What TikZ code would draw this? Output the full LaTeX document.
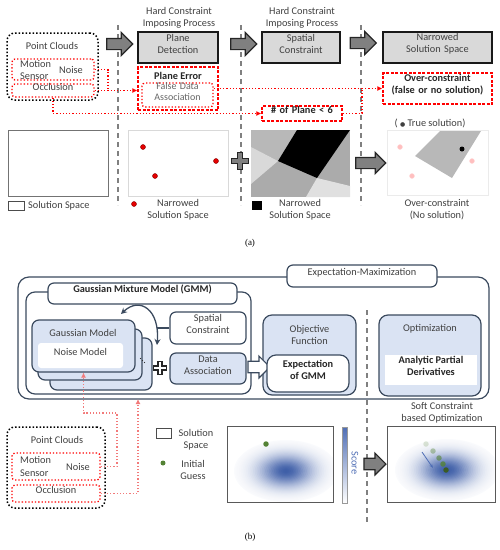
\documentclass[tikz,border=0pt]{standalone}
\usepackage{fontspec}
\setmainfont{Carlito}
\newfontfamily\capfont{Liberation Serif}
\newfontfamily\dejavu{DejaVu Sans}
\usetikzlibrary{shapes.arrows,arrows.meta,fit}
\definecolor{dk}{HTML}{404040}
\definecolor{bbord}{HTML}{3B4A5E}
\definecolor{lblue}{HTML}{DAE3F3}
\definecolor{rd}{HTML}{FF0000}
\definecolor{pk}{HTML}{F27A7A}
\definecolor{gcore}{RGB}{62,94,168}
\definecolor{scb}{HTML}{4F6EB5}
\definecolor{grn}{HTML}{548235}
\newcommand{\myplus}[5]{\draw[line width=1.2pt, draw=black!85, fill=#3, shift={(#1,#2)}] (-#4,-#5) -- (#4,-#5) -- (#4,-#4) -- (#5,-#4) -- (#5,#4) -- (#4,#4) -- (#4,#5) -- (-#4,#5) -- (-#4,#4) -- (-#5,#4) -- (-#5,-#4) -- (-#4,-#4) -- cycle;}
\newcommand{\gaussblob}[4]{%
  \foreach \i in {30,29,...,1}{%
    \pgfmathsetmacro{\pc}{100*exp(-3.6*(\i/30)^2)}%
    \fill[gcore!\pc!white] (#1,#2) ellipse ({#3*\i/30} and {#4*\i/30});
  }}
\tikzset{
  txt/.style={font=\fontsize{10.3}{12}\selectfont, text=dk, align=center, inner sep=0pt},
  txtb/.style={font=\fontsize{10.3}{12}\selectfont\bfseries, text=black!85, align=center, inner sep=0pt},
  graybox/.style={draw=black!90, line width=1.1pt, fill=black!15, inner sep=0pt},
  rdash/.style={draw=rd, dash pattern=on 3pt off 1.5pt, line width=1.3pt, inner sep=0pt},
  rdot/.style={draw=rd, dotted, line width=1.3pt, rounded corners=3pt, inner sep=0pt},
  kdot/.style={draw=black, dotted, line width=1.5pt, rounded corners=8pt, inner sep=0pt},
  vdash/.style={draw=black!50, line width=1.2pt, dash pattern=on 5pt off 4pt},
  blk/.style={draw=bbord, line width=1.2pt, rounded corners=7pt, inner sep=0pt},
  barrow/.style={single arrow, draw=black!85, fill=black!50, line width=1.2pt, single arrow head extend=6pt, inner sep=5pt, minimum height=26pt, minimum width=22pt},
  rline/.style={draw=rd, line width=1.2pt, dotted},
  pline/.style={draw=pk, line width=1.2pt, dotted},
  rarr/.style={-{Latex[length=5pt,width=5pt]}},
  dotr/.style={circle, fill=red!90!black, draw=black!50!red, line width=0.4pt, inner sep=0pt, minimum size=5pt},
  dotp/.style={circle, fill=red!25, draw=red!15, line width=0.4pt, inner sep=0pt, minimum size=5pt},
}
\begin{document}
\begin{tikzpicture}[x=1pt,y=-1pt]
\useasboundingbox (0,0) rectangle (500,550);
% ===================== (a) =====================
\node[txt] (h1) at (179,18) {Hard Constraint\\Imposing Process};
\node[txt] (h2) at (302,18) {Hard Constraint\\Imposing Process};
\coordinate (v1t) at (118,25); \coordinate (v1b) at (118,205);
\coordinate (v2t) at (241,25); \coordinate (v2b) at (241,205);
\coordinate (v3t) at (361,25); \coordinate (v3b) at (361,205);
\draw[vdash] (v1t) -- (v1b);
\draw[vdash] (v2t) -- (v2b);
\draw[vdash] (v3t) -- (v3b);
% point clouds
\node[kdot, fit={(7,33)(98,100)}] (pc1) {};
\node[txt] (pc1t) at (52,46) {Point Clouds};
\node[rdot, fit={(12,59)(94,80)}] (ms1) {};
\node[txt, anchor=west] (ms1a) at (20,63.5) {Motion};
\node[txt, anchor=west] (ms1b) at (20,76) {Sensor};
\node[txt] (ms1c) at (71,70) {Noise};
\node[rdot, fit={(12,84)(94,97)}, txt] (oc1) {Occlusion};
% process boxes
\node[graybox, fit={(138,32)(218,63)}, txt] (pd) {Plane\\Detection};
\node[graybox, fit={(262,32)(340,63)}, txt] (sc) {Spatial\\Constraint};
\node[graybox, fit={(383,32)(492,63)}, txt] (nss) {Narrowed\\Solution Space};
\node[barrow] (ar1) at (117,44) {};
\node[barrow] (ar2) at (241,44) {};
\node[barrow] (ar3) at (360.5,43) {};
% error boxes
\node[rdash, fit={(138,67)(218,110)}] (pe) {};
\node[txtb] (pet) at (178,76) {Plane Error};
\node[rdot, fit={(142,83)(213,107)}, txt, text=black!60, font=\fontsize{10}{11}\selectfont] (fda) {False Data\\Association};
\node[rdash, fill=white, fit={(262,106)(342,121)}, txtb] (np6) {\# of Plane < 6};
\node[rdash, fit={(383,73)(492,104)}, txtb] (oc) {Over-constraint\\(false or no solution)};
% red connectors
\coordinate (j1) at (108,90.5);
\draw[rline] (ms1.east) -| (j1);
\draw[rline, rarr] (oc1.east) -- (oc1.east -| pe.west);
\draw[rline, rarr] (oc1.south) |- (np6.west);
\coordinate (j2) at (362,88.5);
\draw[rline] (fda.east |- j2) -- (j2);
\draw[rline] (np6.east) -| (j2);
\draw[rline, rarr] (j2) -- (oc.west);
% solution space panels
\node[draw=black!55, line width=1pt, fit={(8,130)(108,196)}, inner sep=0pt] (ss1) {};
\node[draw=black!70, line width=0.8pt, fit={(8,201)(24,210)}, inner sep=0pt] (lg1) {};
\node[txt, anchor=west] (lg1t) at (28,206) {Solution Space};
\node[draw=black!15, line width=0.8pt, fit={(128,130)(228,196)}, inner sep=0pt] (ns1) {};
\node[dotr] (d1) at (143,147) {};
\node[dotr] (d2) at (155,176) {};
\node[dotr] (d3) at (216,161) {};
\node[dotr] (lgd) at (134,204) {};
\node[txt] (ns1t) at (178,210) {Narrowed\\Solution Space};
\myplus{240}{161}{black!50}{2.8}{8.5}
% spatial constraint picture
\fill[black!33] (251,130) rectangle (350,197);
\fill[black!28] (251,130) -- (297,130) -- (278,161) -- (251,147) -- cycle;
\fill[black!15] (251,147) -- (278,161) -- (251,184) -- cycle;
\fill[black!12] (317,178) -- (350,186) -- (350,197) -- (306,197) -- cycle;
\fill[black] (297,130) -- (350,130) -- (317,178) -- (278,161) -- cycle;
\node[fill=black, fit={(252,201)(262,210)}, inner sep=0pt] (lg2) {};
\node[txt] (lg2t) at (300,210) {Narrowed\\Solution Space};
\node[barrow, minimum height=30pt, minimum width=20pt, single arrow head extend=5pt] (ar4) at (368,163) {};
% over-constraint picture
\node[draw=black!8, line width=0.6pt, fit={(387,130)(488,195)}, inner sep=0pt] (ocim) {};
\fill[black!28] (440,131) -- (481,131) -- (452,178) -- (415,156) -- cycle;
\node[dotp] (p1d) at (400,147) {};
\node[dotp] (p2d) at (412,176) {};
\node[dotp] (p3d) at (472,161) {};
\node[circle, fill=black, inner sep=0pt, minimum size=5pt] (tsd) at (462,149) {};
\node[txt] (tst) at (430,123) {( {\dejavu\fontsize{6}{6}\selectfont ●} True solution)};
\node[txt] (oct) at (437,210) {Over-constraint\\(No solution)};
\node[font=\capfont\fontsize{9}{10}\selectfont] (capa) at (250,243) {(a)};
% ===================== (b) =====================
\node[blk, rounded corners=11pt, fit={(18,277)(489,399)}] (em) {};
\node[blk, fill=white, rounded corners=6pt, txt, fit={(287,265)(437,287)}] (emt) {Expectation-Maximization};
\node[blk, rounded corners=9pt, fit={(26,292)(251,394)}] (gmm) {};
\node[blk, fill=white, rounded corners=6pt, txtb, fit={(48,283)(237,304)}] (gmmt) {Gaussian Mixture Model (GMM)};
\node[blk, fill=lblue, fit={(50,338)(152,390)}] (g3) {};
\node[blk, fill=lblue, fit={(38,329)(142,380)}] (g2) {};
\node[blk, fill=lblue, fit={(32,320)(135,372)}] (g1) {};
\node[txt] (g1t) at (83,333) {Gaussian Model};
\node[fill=white, rounded corners=3pt, txt, fit={(38,343)(123,368)}] (nm) {Noise Model};
\fill[black!80] (140.5,358.5) circle (0.6) (142.5,360.5) circle (0.6) (144.5,362.5) circle (0.6);
\myplus{160}{368}{white}{2}{6.5}
\node[blk, fill=white, rounded corners=6pt, txt, fit={(170,312)(246,344)}] (spc) {Spatial\\Constraint};
\node[blk, fill=lblue, rounded corners=6pt, txt, fit={(170,353)(246,384)}] (da) {Data\\Association};
\coordinate (ca1) at (121,314);
\coordinate (ca2) at (157,345);
\coordinate (ca3) at (156.5,328);
\draw[bbord, line width=1.3pt, {Stealth[length=6pt,width=6pt]}-{Stealth[length=6pt,width=6pt]}] (ca1) .. controls (140,296) and (160,310) .. (ca2);
\draw[bbord, line width=1.3pt] (spc.west) -- (ca3);
\node[blk, fill=lblue, rounded corners=9pt, fit={(263,315)(356,395)}] (obj) {};
\node[txt] (objt) at (309.5,335) {Objective\\Function};
\node[single arrow, draw=bbord, fill=white, line width=1.2pt, single arrow head extend=5pt, minimum height=22pt, minimum width=22pt, inner sep=5pt] (har) at (256,367) {};
\node[blk, fill=white, rounded corners=9pt, txtb, fit={(267,355)(349,392)}] (exg) {Expectation\\of GMM};
\coordinate (v4t) at (367,310); \coordinate (v4b) at (367,523);
\draw[vdash] (v4t) -- (v4b);
\node[blk, fill=lblue, rounded corners=9pt, fit={(379,315)(481,396)}] (opt) {};
\node[txt] (optt) at (430,329) {Optimization};
\node[fill=white, inner sep=0pt, txtb, fit={(385,355)(477,385)}] (apd) {Analytic Partial\\Derivatives};
% point clouds (b)
\node[kdot, fit={(7,427)(105,508)}] (pc2) {};
\node[txt] (pc2t) at (57,440) {Point Clouds};
\node[rdot, fit={(12,453)(100,480)}] (ms2) {};
\node[txt, anchor=west] (ms2a) at (20,460) {Motion};
\node[txt, anchor=west] (ms2b) at (20,473) {Sensor};
\node[txt] (ms2c) at (78,467) {Noise};
\node[rdot, txt, fit={(12,485)(100,502)}] (oc2) {Occlusion};
\coordinate (c1) at (117,413);
\coordinate (c2) at (138,399);
\draw[pline, rarr] (ms2.east) -| (c1) -| (g1.south);
\draw[pline, rarr] (oc2.east) -| (c2);
% legend (b)
\node[draw=black!70, line width=0.8pt, fit={(156,428)(171,438)}, inner sep=0pt] (lg3) {};
\node[txt] (lg3t) at (196,440) {Solution\\Space};
\node[circle, fill=grn, inner sep=0pt, minimum size=5pt] (lg4) at (163,463) {};
\node[txt] (lg4t) at (193,470) {Initial\\Guess};
% plot 1
\begin{scope}
\clip (227,426) rectangle (333,502);
\gaussblob{286}{471}{52}{31}
\end{scope}
\node[draw=black!65, line width=0.9pt, fit={(227,426)(333,502)}, inner sep=0pt] (pl1) {};
\node[circle, fill=grn, inner sep=0pt, minimum size=5.5pt] (ig) at (266,444) {};
% score bar
\shade[top color=scb, bottom color=white, draw=black!40, line width=0.5pt] (342,427) rectangle (347,503);
\node[txt, text=scb, rotate=-90] (sct) at (355,463) {Score};
\node[barrow, minimum height=22pt, minimum width=22pt, single arrow head extend=5pt] (ar5) at (372,464) {};
% plot 2
\begin{scope}
\clip (387,426) rectangle (495,502);
\gaussblob{447}{470}{52}{31}
\end{scope}
\node[draw=black!65, line width=0.9pt, fit={(387,426)(495,502)}, inner sep=0pt] (pl2) {};
\node[circle, fill=grn, opacity=0.2, inner sep=0pt, minimum size=5.5pt] (s1) at (426,444) {};
\node[circle, fill=grn, opacity=0.4, inner sep=0pt, minimum size=5.5pt] (s2) at (433,451) {};
\node[circle, fill=grn, opacity=0.6, inner sep=0pt, minimum size=5.5pt] (s3) at (439,458) {};
\node[circle, fill=grn, opacity=0.8, inner sep=0pt, minimum size=5.5pt] (s4) at (443,464) {};
\node[circle, fill=grn!70!black, inner sep=0pt, minimum size=5.5pt] (s5) at (446,470) {};
\coordinate (ba1) at (422,452); \coordinate (ba2) at (433,468);
\draw[scb, line width=0.8pt, -{Stealth[length=4pt]}] (ba1) -- (ba2);
\node[txt] (sco) at (442,413) {Soft Constraint\\based Optimization};
\node[font=\capfont\fontsize{9}{10}\selectfont] (capb) at (250,537) {(b)};
\end{tikzpicture}
\end{document}
